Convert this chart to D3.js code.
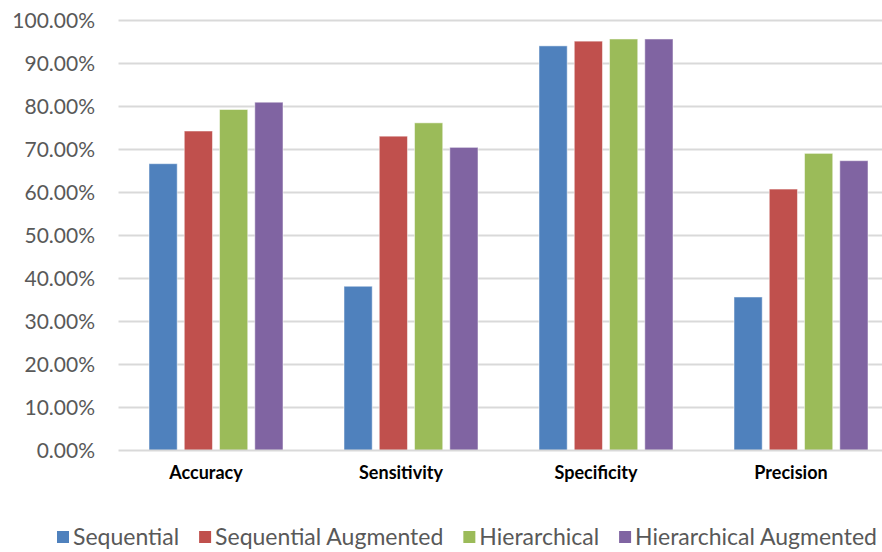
<!DOCTYPE html>
<html>
<head>
<meta charset="utf-8">
<script src="https://cdn.jsdelivr.net/npm/d3@7"></script>
<style>
  html, body { margin: 0; padding: 0; background: #fff; }
  svg { display: block; }
</style>
</head>
<body>
<svg id="chart" width="882" height="552"></svg>
<script>
// ---- data ----
const categories = ["Accuracy", "Sensitivity", "Specificity", "Precision"];
const seriesNames = ["Sequential", "Sequential Augmented", "Hierarchical", "Hierarchical Augmented"];
const sequential            = [0.667, 0.382, 0.941, 0.357];
const sequentialAugmented   = [0.743, 0.731, 0.952, 0.608];
const hierarchical          = [0.793, 0.762, 0.957, 0.691];
const hierarchicalAugmented = [0.810, 0.705, 0.957, 0.674];
const yTicks = [0, 0.1, 0.2, 0.3, 0.4, 0.5, 0.6, 0.7, 0.8, 0.9, 1.0];

const seriesValues = [sequential, sequentialAugmented, hierarchical, hierarchicalAugmented];
const colors = ["#4F81BD", "#C0504D", "#9BBB59", "#8064A2"];

const svg = d3.select("#chart");
const W = 882, H = 552;
const plotLeft = 118.5, plotRight = 898.5, plotTop = 20.5, plotBottom = 450.5;

const x0 = d3.scaleBand().domain(categories).range([plotLeft, plotRight]).paddingInner(0).paddingOuter(0);
const groupPad = 30.5;
const x1 = d3.scaleBand().domain(seriesNames)
  .range([groupPad, x0.bandwidth() - groupPad]).paddingInner(0.2).paddingOuter(0);
const y = d3.scaleLinear().domain([0, 1]).range([plotBottom, plotTop]);

// gridlines
svg.append("g").selectAll("line").data(yTicks.filter(d => d > 0)).join("line")
  .attr("x1", plotLeft).attr("x2", W)
  .attr("y1", d => y(d)).attr("y2", d => y(d))
  .attr("stroke", "#d9d9d9").attr("stroke-width", 2);

// y labels
const fmt = d3.format(".2%");
svg.append("g").selectAll("text").data(yTicks).join("text")
  .attr("x", 95).attr("y", d => y(d)).attr("dy", "0.36em")
  .attr("text-anchor", "end")
  .attr("font-family", "Lato, 'Open Sans', sans-serif")
  .attr("font-size", 21)
  .attr("fill", "#595959")
  .text(d => fmt(d));

// bars
const groups = svg.append("g").selectAll("g").data(categories).join("g")
  .attr("transform", c => `translate(${x0(c)},0)`);
groups.selectAll("rect")
  .data((c, ci) => seriesNames.map((s, si) => ({ s, si, v: seriesValues[si][ci] })))
  .join("rect")
  .attr("x", d => x1(d.s))
  .attr("width", x1.bandwidth())
  .attr("y", d => y(d.v))
  .attr("height", d => y(0) - y(d.v))
  .attr("fill", d => colors[d.si])
  .attr("stroke", "#ffffff").attr("stroke-opacity", 0.5).attr("stroke-width", 1);

// x axis line
svg.append("line")
  .attr("x1", plotLeft).attr("x2", W)
  .attr("y1", y(0)).attr("y2", y(0))
  .attr("stroke", "#d9d9d9").attr("stroke-width", 2);

// x labels
svg.append("g").selectAll("text").data(categories).join("text")
  .attr("x", c => x0(c) + x0.bandwidth() / 2 - 10)
  .attr("y", 479)
  .attr("text-anchor", "middle")
  .attr("font-family", "Lato, 'Open Sans', sans-serif")
  .attr("font-weight", "bold")
  .attr("font-size", 18)
  .attr("fill", "#000")
  .text(c => c);

// legend
const legend = svg.append("g");
const sq = 12, textGap = 4, itemGap = 20;
let lx = 57;
seriesNames.forEach((s, i) => {
  legend.append("rect")
    .attr("x", lx).attr("y", 531).attr("width", sq).attr("height", sq)
    .attr("fill", colors[i]);
  const t = legend.append("text")
    .attr("x", lx + sq + textGap).attr("y", 544.5)
    .attr("font-family", "Lato, 'Open Sans', sans-serif")
    .attr("font-size", 23)
    .attr("fill", "#595959")
    .text(s);
  lx += sq + textGap + t.node().getComputedTextLength() + itemGap;
});
</script>
</body>
</html>
